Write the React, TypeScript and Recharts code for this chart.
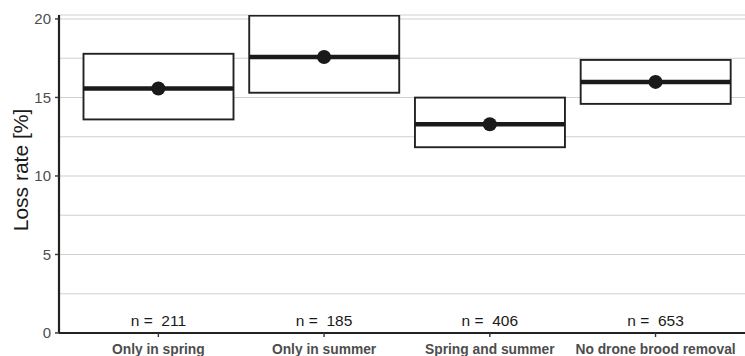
import { ComposedChart, Bar, Scatter, XAxis, YAxis, CartesianGrid } from "recharts";

const categories = ["Only in spring", "Only in summer", "Spring and summer", "No drone brood removal"];
const lower = [13.6, 15.3, 11.83, 14.59];
const upper = [17.78, 20.21, 14.99, 17.39];
const means = [15.57, 17.58, 13.29, 15.99];
const counts = [211, 185, 406, 653];
const yTicks = [0, 2.5, 5, 7.5, 10, 12.5, 15, 17.5, 20];

const data = categories.map((c, i) => ({
  name: c,
  range: [lower[i], upper[i]],
  mean: means[i],
  n: counts[i],
}));

const FONT = '"Liberation Sans", Arial, sans-serif';
const BOX_W = 150;

const BoxShape = (p: any) => (
  <rect
    x={p.x}
    y={p.y}
    width={p.width}
    height={p.height}
    fill="#fff"
    stroke="#222"
    strokeWidth={1.9}
  />
);

const MeanShape = (p: any) => (
  <g>
    <line x1={p.cx - BOX_W / 2} x2={p.cx + BOX_W / 2} y1={p.cy} y2={p.cy} stroke="#1a1a1a" strokeWidth={4.5} />
    <circle cx={p.cx} cy={p.cy} r={7} fill="#1a1a1a" />
  </g>
);

const YTick = (p: any) => {
  const v = p.payload.value;
  if (v % 5 !== 0) return null;
  return (
    <g>
      <line x1={55} x2={59} y1={p.y} y2={p.y} stroke="#333" strokeWidth={1.4} />
      <text x={51} y={p.y} dy="0.35em" textAnchor="end" fill="#4d4d4d" fontSize={15} fontFamily={FONT}>
        {v}
      </text>
    </g>
  );
};

const XTick = (p: any) => (
  <g>
    <text
      x={p.x}
      y={326}
      textAnchor="middle"
      fill="#1a1a1a"
      fontSize={15.5}
      fontFamily={FONT}
      style={{ whiteSpace: "pre" }}
    >
      {"n =  " + counts[p.index]}
    </text>
    <text x={p.x} y={353.5} textAnchor="middle" fill="#4d4d4d" fontSize={13.8} fontWeight="bold" fontFamily={FONT}>
      {p.payload.value}
    </text>
  </g>
);

const YLabel = () => (
  <text transform="translate(28,170) rotate(-90)" textAnchor="middle" fill="#1a1a1a" fontSize={21} fontFamily={FONT}>
    Loss rate [%]
  </text>
);

export default function App() {
  return (
    <div style={{ position: "absolute", left: 0, top: 0, background: "#fff" }}>
      <ComposedChart width={745} height={356} data={data} margin={{ top: 15, right: 0, bottom: 0, left: 0 }}>
        <CartesianGrid vertical={false} stroke="#d0d0d0" strokeWidth={1.1} />
        <XAxis
          dataKey="name"
          type="category"
          height={23}
          padding={{ left: 16.5, right: 6.6 }}
          axisLine={{ stroke: "#222", strokeWidth: 2.2 }}
          tickLine={{ stroke: "#333", strokeWidth: 1.4 }}
          tickSize={4}
          tick={<XTick />}
          interval={0}
        />
        <YAxis
          width={59}
          domain={[0, 20.25]}
          ticks={yTicks}
          allowDataOverflow
          axisLine={{ stroke: "#222", strokeWidth: 2.2 }}
          tickLine={false}
          tick={<YTick />}
          interval={0}
          label={<YLabel />}
        />
        <Bar dataKey="range" barSize={BOX_W} shape={<BoxShape />} isAnimationActive={false} />
        <Scatter dataKey="mean" shape={<MeanShape />} isAnimationActive={false} />
      </ComposedChart>
    </div>
  );
}
